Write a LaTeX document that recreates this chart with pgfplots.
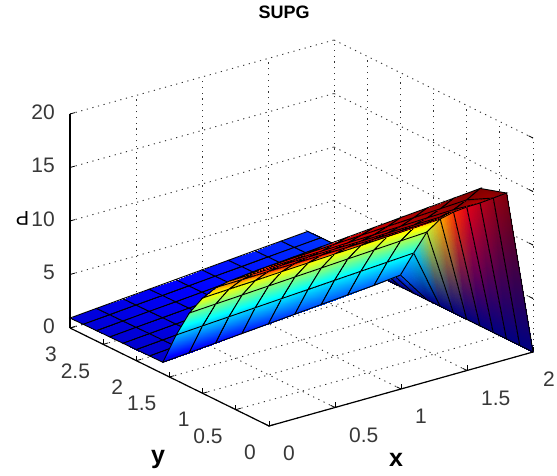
\documentclass[border=0pt]{standalone}
\usepackage{pgfplots}
\pgfplotsset{compat=1.18}
\usepackage{fontspec}
\setmainfont{Liberation Sans}
\definecolor{ticktxt}{gray}{0.22}
\begin{document}
\begin{tikzpicture}
\path[use as bounding box] (0pt,0pt) rectangle (557pt,476pt);
\begin{axis}[
  at={(269pt,50pt)}, anchor=origin,
  x={(132pt,37pt)}, y={(-66.33pt,32.67pt)}, z={(0pt,10.7pt)},
  xmin=0, xmax=2, ymin=0, ymax=3, zmin=0, zmax=20,
  xtick={0,0.5,1,1.5,2}, ytick={0,0.5,1,1.5,2,2.5,3}, ztick={0,5,10,15,20},
  xticklabels={\raisebox{7pt}{0},0.5,1,1.5,\hspace*{-4pt}2},
  yticklabels={\raisebox{8pt}{0},0.5,1,1.5,2,2.5,3},
  clip=false,
  grid=major,
  grid style={black!80, dash pattern=on 1.2pt off 4.6pt, line width=0.9pt},
  axis line style={draw=none},
  xtick pos=left, ytick pos=left, ztick pos=left,
  tick style={black, line width=0.8pt},
  major tick length=5pt,
  /pgf/number format/assume math mode=true,
  ticklabel style={font=\fontsize{21}{23}\selectfont, text=ticktxt, inner sep=0pt},
  xticklabel style={anchor=north west, xshift=14pt, yshift=-20pt},
  yticklabel style={anchor=north east, xshift=-13pt, yshift=-19pt},
  zticklabel style={anchor=east, xshift=-15pt, yshift=2pt},
  colormap/jet,
  point meta min=0, point meta max=1,
  title={\bfseries SUPG},
  title style={font=\fontsize{18}{20}\selectfont, at={(axis cs:0.114,0,37.7)}, anchor=center, inner sep=0pt},
  xlabel={\bfseries x},
  xlabel style={font=\fontsize{25}{27}\selectfont, at={(axis cs:0.28,-1.358,0)}, anchor=center, rotate=0, sloped=false, inner sep=0pt},
  ylabel={\bfseries y},
  ylabel style={font=\fontsize{25}{27}\selectfont, at={(axis cs:-0.83,0.022,-0.3)}, anchor=center, rotate=0, sloped=false, inner sep=0pt},
  zlabel={P},
  zlabel style={font=\fontsize{20}{22}\selectfont, at={(axis cs:-0.36,3,11.5)}, anchor=center, rotate=90, sloped=false, inner sep=0pt},
]
% axis lines
\addplot3[black, line width=1.2pt, forget plot] coordinates {(0,0,0) (2,0,0)};
\addplot3[black, line width=1.2pt, forget plot] coordinates {(0,0,0) (0,3,0)};
\addplot3[black, line width=1.2pt, forget plot] coordinates {(0,3,0) (0,3,20)};
% outlet wall behind the plate
\addplot3[surf, shader=faceted interp, faceted color=black, line width=0.9pt, z buffer=none,
  mesh/color input=explicit, mesh/rows=2, forget plot] table[meta=c] {
x y z c
1.8 3.0 2.80 rgb255=0,60,255
1.8 2.8 2.82 rgb255=0,60,255
1.8 2.6 2.84 rgb255=0,60,255
1.8 2.4 2.86 rgb255=0,60,255
1.8 2.2 2.88 rgb255=0,60,255
1.8 2.0 2.90 rgb255=0,60,255
1.8 1.8 2.92 rgb255=0,60,255
1.8 1.6 3.00 rgb255=0,90,255
2.0 3.0 0 rgb255=0,0,140
2.0 2.8 0 rgb255=0,0,140
2.0 2.6 0 rgb255=0,0,140
2.0 2.4 0 rgb255=0,0,140
2.0 2.2 0 rgb255=0,0,140
2.0 2.0 0 rgb255=0,0,140
2.0 1.8 0 rgb255=0,0,140
2.0 1.6 0 rgb255=0,0,140
};
% flat part
\addplot3[surf, shader=faceted interp, faceted color=black, line width=0.9pt, z buffer=none,
  point meta=explicit, mesh/rows=8, forget plot] table[meta=m] {
x y z m
0.0 3.0 0.93 0.085
0.2 3.0 1.14 0.095
0.4 3.0 1.35 0.105
0.6 3.0 1.55 0.115
0.8 3.0 1.76 0.125
1.0 3.0 1.97 0.135
1.2 3.0 2.18 0.145
1.4 3.0 2.39 0.155
1.6 3.0 2.59 0.165
1.8 3.0 2.80 0.175
0.0 2.8 0.95 0.085
0.2 2.8 1.16 0.095
0.4 2.8 1.37 0.105
0.6 2.8 1.57 0.115
0.8 2.8 1.78 0.125
1.0 2.8 1.99 0.135
1.2 2.8 2.20 0.145
1.4 2.8 2.41 0.155
1.6 2.8 2.61 0.165
1.8 2.8 2.82 0.175
0.0 2.6 0.97 0.085
0.2 2.6 1.18 0.095
0.4 2.6 1.39 0.105
0.6 2.6 1.59 0.115
0.8 2.6 1.80 0.125
1.0 2.6 2.01 0.135
1.2 2.6 2.22 0.145
1.4 2.6 2.43 0.155
1.6 2.6 2.63 0.165
1.8 2.6 2.84 0.175
0.0 2.4 0.99 0.08
0.2 2.4 1.20 0.09
0.4 2.4 1.41 0.10
0.6 2.4 1.61 0.11
0.8 2.4 1.82 0.12
1.0 2.4 2.03 0.13
1.2 2.4 2.24 0.14
1.4 2.4 2.45 0.15
1.6 2.4 2.65 0.16
1.8 2.4 2.86 0.17
0.0 2.2 1.01 0.08
0.2 2.2 1.22 0.09
0.4 2.2 1.43 0.10
0.6 2.2 1.63 0.11
0.8 2.2 1.84 0.12
1.0 2.2 2.05 0.13
1.2 2.2 2.26 0.14
1.4 2.2 2.47 0.15
1.6 2.2 2.67 0.16
1.8 2.2 2.88 0.17
0.0 2.0 1.03 0.075
0.2 2.0 1.24 0.085
0.4 2.0 1.45 0.095
0.6 2.0 1.65 0.105
0.8 2.0 1.86 0.115
1.0 2.0 2.07 0.125
1.2 2.0 2.28 0.135
1.4 2.0 2.49 0.145
1.6 2.0 2.69 0.155
1.8 2.0 2.90 0.165
0.0 1.8 1.05 0.075
0.2 1.8 1.26 0.085
0.4 1.8 1.47 0.095
0.6 1.8 1.67 0.105
0.8 1.8 1.88 0.115
1.0 1.8 2.09 0.125
1.2 1.8 2.30 0.135
1.4 1.8 2.51 0.145
1.6 1.8 2.71 0.155
1.8 1.8 2.92 0.165
0.0 1.6 1.07 0.07
0.2 1.6 1.28 0.08
0.4 1.6 1.49 0.09
0.6 1.6 1.69 0.10
0.8 1.6 1.90 0.11
1.0 1.6 2.11 0.12
1.2 1.6 2.32 0.13
1.4 1.6 2.53 0.14
1.6 1.6 2.73 0.15
1.8 1.6 3.00 0.16
};
% rising face; m is the colour position
\addplot3[surf, shader=faceted interp, faceted color=black, line width=0.9pt, z buffer=none,
  point meta=explicit, mesh/rows=9, forget plot] table[meta=m] {
x y z m
0.0 1.6 1.07 0.09
0.2 1.6 1.28 0.10
0.4 1.6 1.49 0.12
0.6 1.6 1.69 0.14
0.8 1.6 1.90 0.16
1.0 1.6 2.11 0.18
1.2 1.6 2.32 0.20
1.4 1.6 2.53 0.21
1.6 1.6 2.73 0.22
1.8 1.6 3.00 0.24
0.0 1.4 4.23 0.30
0.2 1.4 4.39 0.31
0.4 1.4 4.55 0.32
0.6 1.4 4.71 0.33
0.8 1.4 4.87 0.34
1.0 1.4 5.03 0.35
1.2 1.4 5.19 0.35
1.4 1.4 5.35 0.36
1.6 1.4 5.51 0.37
1.8 1.4 5.67 0.38
0.0 1.2 6.90 0.48
0.2 1.2 7.05 0.49
0.4 1.2 7.20 0.50
0.6 1.2 7.35 0.50
0.8 1.2 7.50 0.51
1.0 1.2 7.65 0.52
1.2 1.2 7.80 0.52
1.4 1.2 7.95 0.53
1.6 1.2 8.10 0.54
1.8 1.2 8.24 0.56
0.0 1.0 8.91 0.62
0.2 1.0 9.04 0.62
0.4 1.0 9.17 0.62
0.6 1.0 9.30 0.62
0.8 1.0 9.43 0.62
1.0 1.0 9.56 0.62
1.2 1.0 9.68 0.63
1.4 1.0 9.81 0.63
1.6 1.0 9.94 0.65
1.8 1.0 10.07 0.68
0.0 0.8 10.50 0.70
0.2 0.8 10.56 0.78
0.4 0.8 10.63 0.84
0.6 0.8 10.69 0.87
0.8 0.8 10.76 0.89
1.0 0.8 10.82 0.91
1.2 0.8 10.88 0.93
1.4 0.8 10.95 0.94
1.6 0.8 11.01 0.95
1.8 0.8 11.33 0.80
0.0 0.6 11.70 0.74
0.2 0.6 11.76 0.84
0.4 0.6 11.82 0.865
0.6 0.6 11.88 0.88
0.8 0.6 11.94 0.90
1.0 0.6 11.99 0.92
1.2 0.6 12.05 0.94
1.4 0.6 12.11 0.95
1.6 0.6 12.17 0.96
1.8 0.6 12.41 0.875
0.0 0.4 12.80 0.77
0.2 0.4 12.88 0.86
0.4 0.4 12.97 0.875
0.6 0.4 13.05 0.89
0.8 0.4 13.14 0.91
1.0 0.4 13.22 0.93
1.2 0.4 13.30 0.95
1.4 0.4 13.39 0.96
1.6 0.4 13.47 0.975
1.8 0.4 13.40 0.93
0.0 0.2 13.90 0.80
0.2 0.2 14.04 0.87
0.4 0.2 14.18 0.88
0.6 0.2 14.31 0.90
0.8 0.2 14.45 0.92
1.0 0.2 14.59 0.94
1.2 0.2 14.73 0.96
1.4 0.2 14.86 0.975
1.6 0.2 15.00 0.99
1.8 0.2 14.47 0.97
0.0 0.0 14.96 0.85
0.2 0.0 15.17 0.875
0.4 0.0 15.39 0.89
0.6 0.0 15.60 0.91
0.8 0.0 15.81 0.93
1.0 0.0 16.03 0.95
1.2 0.0 16.24 0.97
1.4 0.0 16.45 0.985
1.6 0.0 16.67 1.00
1.8 0.0 15.55 1.00
};
% outlet wall in front
\addplot3[surf, shader=faceted interp, faceted color=black, line width=0.9pt, z buffer=none,
  mesh/color input=explicit, mesh/rows=2, forget plot] table[meta=c] {
x y z c
1.8 1.6 3.00 rgb255=0,110,255
1.8 1.4 5.67 rgb255=0,210,250
1.8 1.2 8.24 rgb255=190,235,60
1.8 1.0 10.07 rgb255=255,170,0
1.8 0.8 11.33 rgb255=255,50,0
1.8 0.6 12.41 rgb255=225,0,25
1.8 0.4 13.40 rgb255=185,0,25
1.8 0.2 14.47 rgb255=150,0,20
1.8 0.0 15.55 rgb255=130,0,10
2.0 1.6 0 rgb255=0,0,130
2.0 1.4 0 rgb255=0,0,130
2.0 1.2 0 rgb255=0,0,130
2.0 1.0 0 rgb255=0,0,130
2.0 0.8 0 rgb255=0,0,130
2.0 0.6 0 rgb255=0,0,130
2.0 0.4 0 rgb255=0,0,130
2.0 0.2 0 rgb255=0,0,130
2.0 0.0 0 rgb255=0,0,130
};
\end{axis}
\end{tikzpicture}
\end{document}
